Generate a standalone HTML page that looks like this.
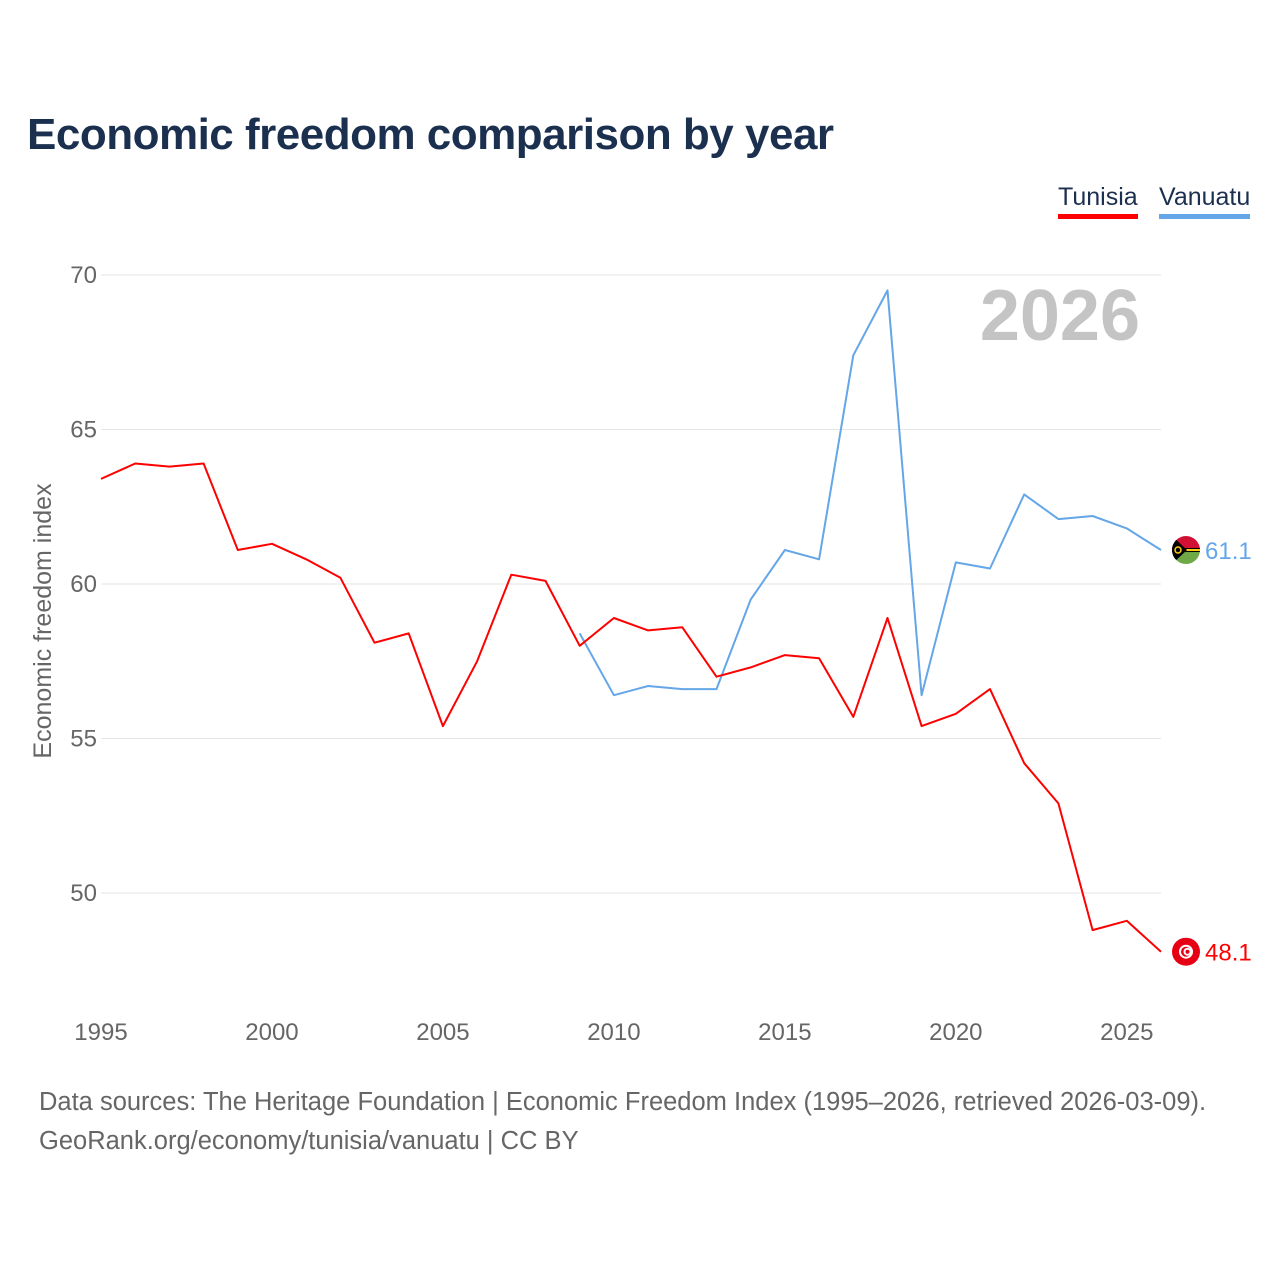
<!DOCTYPE html>
<html><head><meta charset="utf-8">
<style>
html,body{margin:0;padding:0;background:#fff;}
body{width:1280px;height:1280px;position:relative;font-family:"Liberation Sans",sans-serif;overflow:hidden;}
#title{position:absolute;left:27px;top:110px;font-size:44px;font-weight:bold;color:#1b2f4f;letter-spacing:-0.5px;}
.leg{position:absolute;top:183px;font-size:25px;color:#1b2f4f;padding-bottom:2px;}
#src{position:absolute;left:39px;top:1083px;font-size:25.5px;color:#666;line-height:39px;}
</style></head><body>
<div id="title">Economic freedom comparison by year</div>
<div class="leg" style="left:1058px;border-bottom:5px solid #ff0000">Tunisia</div>
<div class="leg" style="left:1159px;border-bottom:5px solid #64a6e8">Vanuatu</div>
<svg id="chart" width="1280" height="1280" style="position:absolute;left:0;top:0"></svg>
<div id="src">Data sources: The Heritage Foundation | Economic Freedom Index (1995–2026, retrieved 2026-03-09).<br>GeoRank.org/economy/tunisia/vanuatu | CC BY</div>
<script>
const years=[1995,1996,1997,1998,1999,2000,2001,2002,2003,2004,2005,2006,2007,2008,2009,2010,2011,2012,2013,2014,2015,2016,2017,2018,2019,2020,2021,2022,2023,2024,2025,2026];
const tunisia=[63.4,63.9,63.8,63.9,61.1,61.3,60.8,60.2,58.1,58.4,55.4,57.5,60.3,60.1,58.0,58.9,58.5,58.6,57.0,57.3,57.7,57.6,55.7,58.9,55.4,55.8,56.6,54.2,52.9,48.8,49.1,48.1];
const vanuatu=[null,null,null,null,null,null,null,null,null,null,null,null,null,null,58.4,56.4,56.7,56.6,56.6,59.5,61.1,60.8,67.4,69.5,56.4,60.7,60.5,62.9,62.1,62.2,61.8,61.1];
const yTicks=[50,55,60,65,70];
const xTicks=[1995,2000,2005,2010,2015,2020,2025];
const NS="http://www.w3.org/2000/svg";
const svg=document.getElementById('chart');
const X=y=>101+(y-1995)*(1161-101)/31;
const Y=v=>275+(70-v)*(893-275)/20;
function mk(t,a,p){const e=document.createElementNS(NS,t);for(const k in a)e.setAttribute(k,a[k]);(p||svg).appendChild(e);return e;}
yTicks.forEach(v=>{
 const l=mk('line',{x1:101,x2:1161,y1:Y(v),y2:Y(v),stroke:'#e6e6e6','stroke-width':1});
 
 
 const t=mk('text',{x:97,y:Y(v)+8,'text-anchor':'end','font-size':24,fill:'#666'});t.textContent=v;
 
 
});
xTicks.forEach(v=>{
 const t=mk('text',{x:X(v),y:1040,'text-anchor':'middle','font-size':24,fill:'#666'});t.textContent=v;
 
 
});
const yt=mk('text',{transform:'translate(51,621) rotate(-90)','text-anchor':'middle','font-size':25,fill:'#666'});yt.textContent='Economic freedom index';


const yr=mk('text',{x:1140,y:340,'text-anchor':'end','font-size':72,'font-weight':'bold',fill:'#c4c4c4'});yr.textContent='2026';


function line(vals,color,name){
 let d='';vals.forEach((v,i)=>{if(v==null)return;d+=(d?'L':'M')+X(years[i]).toFixed(1)+','+Y(v).toFixed(1);});
 const p=mk('path',{d:d,fill:'none',stroke:color,'stroke-width':2,'stroke-linejoin':'round'});
 
 
}
line(vanuatu,'#64a6e8','vanuatu');
line(tunisia,'#ff0000','tunisia');
const cx=1186;
const vy=Y(vanuatu[vanuatu.length-1]);
const vg=mk('g',{});


mk('clipPath',{id:'vc'},vg);mk('circle',{cx:cx,cy:vy,r:14},vg.lastChild);
const vgc=mk('g',{'clip-path':'url(#vc)'},vg);
mk('rect',{x:cx-14,y:vy-14,width:28,height:14,fill:'#d21034'},vgc);
mk('rect',{x:cx-14,y:vy,width:28,height:14,fill:'#6ea847'},vgc);
mk('rect',{x:cx-14,y:vy-2,width:28,height:4,fill:'#000'},vgc);
mk('rect',{x:cx-14,y:vy-1,width:28,height:2,fill:'#fdce12'},vgc);
mk('polygon',{points:`${cx-14},${vy-14} ${cx+1},${vy} ${cx-14},${vy+14}`,fill:'#000'},vgc);
mk('circle',{cx:cx-8,cy:vy,r:3,fill:'none',stroke:'#fdce12','stroke-width':1.5},vgc);
const vl=mk('text',{x:1205,y:vy+9,'font-size':24,fill:'#64a6e8'});vl.textContent=vanuatu[vanuatu.length-1].toFixed(1);


const ty=Y(tunisia[tunisia.length-1]);
const tg=mk('g',{});


mk('circle',{cx:cx,cy:ty,r:14,fill:'#e70013'},tg);
mk('circle',{cx:cx,cy:ty,r:7,fill:'#fff'},tg);
mk('circle',{cx:cx,cy:ty,r:5,fill:'#e70013'},tg);
mk('circle',{cx:cx+1.5,cy:ty,r:4,fill:'#fff'},tg);
mk('circle',{cx:cx+1.5,cy:ty,r:2,fill:'#e70013'},tg);
const tl=mk('text',{x:1205,y:ty+9,'font-size':24,fill:'#ff0000'});tl.textContent=tunisia[tunisia.length-1].toFixed(1);


</script>
</body></html>
